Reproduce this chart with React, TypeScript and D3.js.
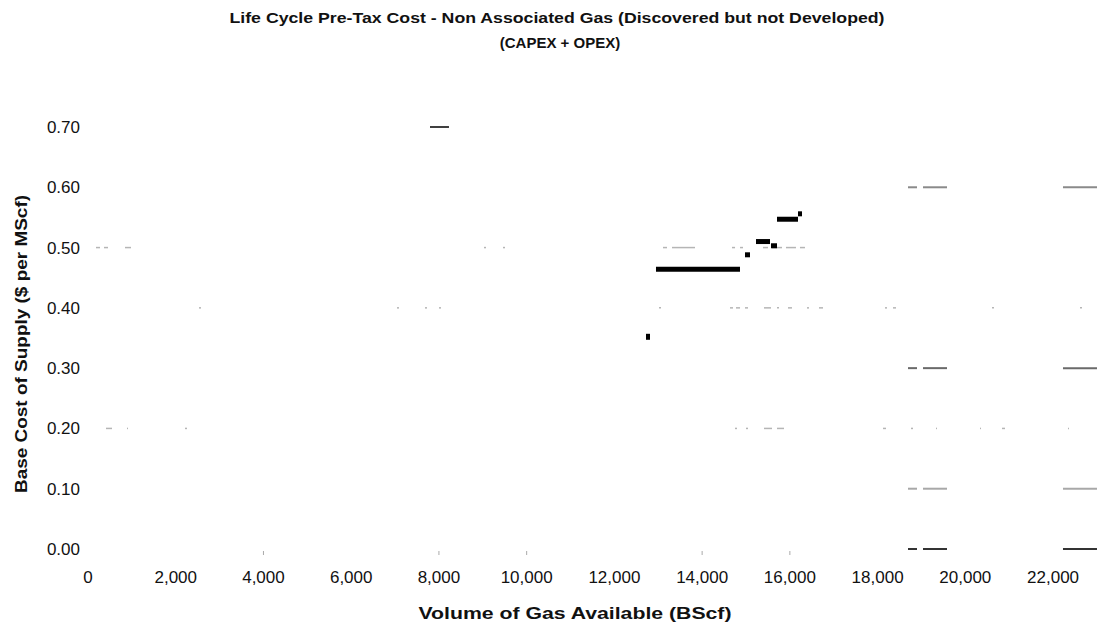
import React from "react";
import * as d3 from "d3";

// ---- data ----
const xTickValues = [0, 2000, 4000, 6000, 8000, 10000, 12000, 14000, 16000, 18000, 20000, 22000];
const yTickValues = [0, 0.1, 0.2, 0.3, 0.4, 0.5, 0.6, 0.7];

// main supply steps (BScf from, BScf to, $ per MScf)
const stepStart = [12720, 12948, 14977, 15228, 15570, 15707, 16185];
const stepEnd = [12811, 14863, 15091, 15547, 15707, 16185, 16276];
const stepCost = [0.352, 0.464, 0.488, 0.51, 0.503, 0.547, 0.556];

// isolated high-cost block
const highStart = [7796];
const highEnd = [8229];
const highCost = [0.7];

// faint gridline remnants (scanned), per level
const fade50: [number, number][] = [[182, 274], [365, 456], [843, 980], [9027, 9073], [9460, 9506], [13108, 13199], [13313, 13837], [14681, 14750], [14864, 14932], [15387, 15501], [15592, 15820], [15911, 16139], [16230, 16344]];
const fade40: [number, number][] = [[2530, 2576], [7044, 7090], [7682, 7728], [8001, 8047], [13017, 13062], [14635, 14704], [14772, 14864], [14977, 15046], [15410, 15570], [15707, 15752], [15957, 16048], [16390, 16436], [16664, 16755], [18168, 18214], [18351, 18419], [20608, 20653], [22614, 22659]];
const fade20: [number, number][] = [[410, 547], [889, 912], [2211, 2257], [14749, 14795], [15000, 15046], [15410, 15592], [15707, 15866], [18123, 18191], [18761, 18807], [19331, 19354], [20334, 20357], [20836, 20904], [22340, 22363]];
const bandLevels = [0.6, 0.3, 0.1, 0.0];
const bandSpans: [number, number][] = [[18693, 18898], [19035, 19582], [22226, 23001]];
const bandColors = ["#8a8a8a", "#6a6a6a", "#a8a8a8", "#333333"];
const axisTickMarks = [4000, 8000, 10000, 14000, 16000];

const title1 = "Life Cycle Pre-Tax Cost - Non Associated Gas (Discovered but not Developed)";
const title2 = "(CAPEX + OPEX)";
const xTitle = "Volume of Gas Available (BScf)";
const yTitle = "Base Cost of Supply ($ per MScf)";

const W = 1109;
const H = 627;
const FONT = "'Liberation Sans', Arial, Helvetica, sans-serif";

export default function App() {
  const x = d3.scaleLinear().domain([0, 22000]).range([88, 88 + 22000 * 0.043867]);
  const y = d3.scaleLinear().domain([0, 0.7]).range([549, 127]);
  const fmtX = d3.format(",");
  const fmtY = d3.format(".2f");

  const fades: { lv: number; spans: [number, number][] }[] = [
    { lv: 0.5, spans: fade50 },
    { lv: 0.4, spans: fade40 },
    { lv: 0.2, spans: fade20 },
  ];

  return (
    <svg width={W} height={H} style={{ position: "absolute", left: 0, top: 0, background: "#fff" }} fontFamily={FONT}>
      <rect x={0} y={0} width={W} height={H} fill="#fff" />
      <text x={557} y={23} textAnchor="middle" fontSize={15} fontWeight="bold" fill="#111" textLength={655} lengthAdjust="spacingAndGlyphs">{title1}</text>
      <text x={560} y={48} textAnchor="middle" fontSize={15} fontWeight="bold" fill="#111">{title2}</text>

      {yTickValues.map((v) => (
        <text key={"yl" + v} x={80} y={y(v)} dy="0.35em" textAnchor="end" fontSize={17} fill="#111">{fmtY(v)}</text>
      ))}
      {xTickValues.map((v) => (
        <text key={"xl" + v} x={x(v)} y={577} dy="0.35em" textAnchor="middle" fontSize={17} fill="#111">{fmtX(v)}</text>
      ))}
      {axisTickMarks.map((v) => (
        <line key={"tm" + v} x1={x(v)} x2={x(v)} y1={551} y2={555} stroke="#aaa" strokeWidth={1} />
      ))}

      {fades.map((f) =>
        f.spans.map((s, i) => (
          <line key={"f" + f.lv + "-" + i} x1={x(s[0])} x2={x(s[1])} y1={y(f.lv)} y2={y(f.lv)} stroke="#b5b5b5" strokeWidth={1.5} />
        ))
      )}
      {bandLevels.map((lv, li) =>
        bandSpans.map((s, i) => (
          <line key={"b" + lv + "-" + i} x1={x(s[0])} x2={x(s[1])} y1={y(lv)} y2={y(lv)} stroke={bandColors[li]} strokeWidth={2} />
        ))
      )}

      {highCost.map((c, i) => (
        <line key={"h" + i} x1={x(highStart[i])} x2={x(highEnd[i])} y1={y(c)} y2={y(c)} stroke="#000" strokeWidth={1.5} />
      ))}
      {stepCost.map((c, i) => (
        <line key={"s" + i} x1={x(stepStart[i])} x2={x(stepEnd[i])} y1={y(c)} y2={y(c)} stroke="#000" strokeWidth={i === 0 ? 6 : 5} />
      ))}

      <text x={575} y={613} dy="0.35em" textAnchor="middle" fontSize={16} fontWeight="bold" fill="#111" textLength={313} lengthAdjust="spacingAndGlyphs">{xTitle}</text>
      <text transform={`translate(21,344) rotate(-90)`} textAnchor="middle" dy="0.35em" fontSize={16} fontWeight="bold" fill="#111" textLength={298} lengthAdjust="spacingAndGlyphs">{yTitle}</text>
    </svg>
  );
}
